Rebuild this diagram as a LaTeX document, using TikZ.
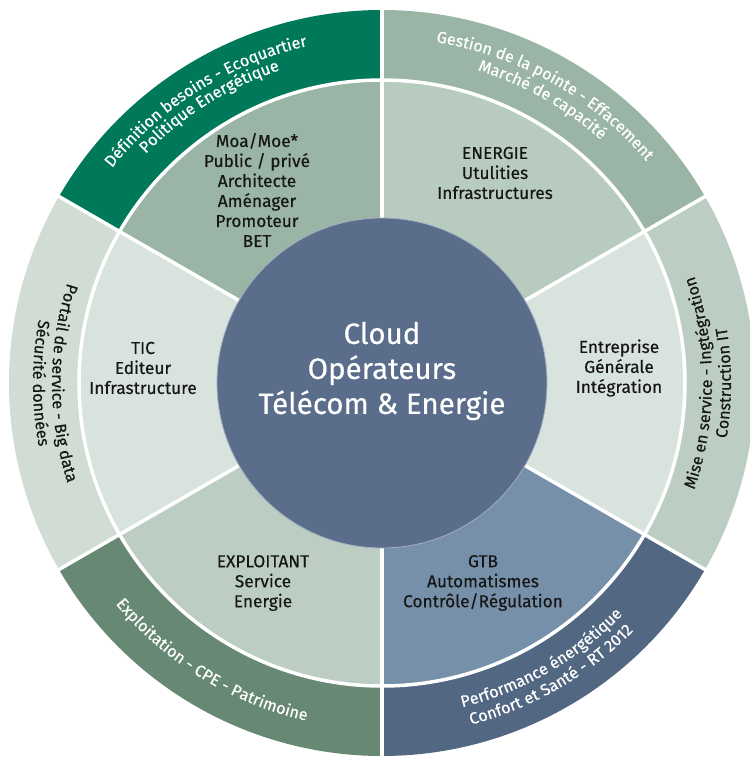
\documentclass[tikz,border=0pt]{standalone}
\usepackage{fontspec}
\setmainfont{Fira Sans}[FakeBold=0.35]
\usetikzlibrary{decorations.text}

% palette
\definecolor{coreblue}{HTML}{5A6E8C}
\definecolor{coreedge}{HTML}{A3AEC2}
\definecolor{dkgreen}{HTML}{00795A}
\definecolor{sage}{HTML}{9AB5A5}
\definecolor{sagelight}{HTML}{B7CBBF}
\definecolor{mist}{HTML}{D9E3DE}
\definecolor{mistouter}{HTML}{D0DCD4}
\definecolor{mint}{HTML}{BCCEC3}
\definecolor{steel}{HTML}{7690A9}
\definecolor{slate}{HTML}{526782}
\definecolor{moss}{HTML}{678873}
\definecolor{labeldark}{HTML}{161616}

% filled annular sector: colour, start angle, end angle, inner radius, outer radius
\newcommand\ringsector[5]{%
  \fill[#1] (#2:#4) arc[start angle=#2, end angle=#3, radius=#4]
    -- (#3:#5) arc[start angle=#3, end angle=#2, radius=#5] -- cycle;}

% fonts for the curved ring captions
\newcommand\ringwhite{\fontsize{16.2}{18}\selectfont\color{white}}
\newcommand\ringdark{\fontsize{16.2}{18}\selectfont\color{labeldark}}

\tikzset{
  midlabel/.style={align=center, text=labeldark, font=\fontsize{17.3}{20}\selectfont},
  separator/.style={white, line width=3.5pt},
  arctext/.style={decorate, decoration={text along path, text align=center, text={#1}}},
}

\begin{document}
\begin{tikzpicture}[x=1pt, y=1pt]
\useasboundingbox (-382,-375) rectangle (368,383);
\clip (-382,-375) rectangle (368,383);

% outer ring
\ringsector{dkgreen}{90}{150}{165pt}{373pt}
\ringsector{sage}{30}{90}{165pt}{373pt}
\ringsector{mint}{-30}{30}{165pt}{373pt}
\ringsector{slate}{-90}{-30}{165pt}{373pt}
\ringsector{moss}{-150}{-90}{165pt}{373pt}
\ringsector{mistouter}{150}{210}{165pt}{373pt}

% middle ring
\ringsector{sage}{90}{150}{160pt}{303pt}
\ringsector{sagelight}{30}{90}{160pt}{303pt}
\ringsector{mist}{-30}{30}{160pt}{303pt}
\ringsector{steel}{-90}{-30}{160pt}{303pt}
\ringsector{mint}{-150}{-90}{160pt}{303pt}
\ringsector{mist}{150}{210}{160pt}{303pt}

% white separators
\draw[separator] (0,0) circle[radius=303pt];
\foreach \a in {90,30,-30,-90,-150,150}
  \draw[separator] (\a:165pt) -- (\a:380pt);

% core disc
\node[circle, fill=coreblue, draw=coreedge, line width=0.8pt,
      minimum size=330pt, inner sep=0pt] (core) at (0,0) {};
\node[align=center, text=white, font=\fontsize{29.5}{35}\selectfont] (corelabel) at (0,12)
  {Cloud\\Opérateurs\\Télécom \& Energie};

% middle ring labels
\node[midlabel] (moa) at (-125,193) {Moa/Moe*\\Public / privé\\Architecte\\Aménager\\Promoteur\\BET};
\node[midlabel] (energie) at (113,210) {ENERGIE\\Utulities\\Infrastructures};
\node[midlabel] (entreprise) at (237,15) {Entreprise\\Générale\\Intégration};
\node[midlabel] (gtb) at (101,-200) {GTB\\Automatismes\\Contrôle/Régulation};
\node[midlabel] (exploitant) at (-119,-200) {EXPLOITANT\\Service\\Energie};
\node[midlabel] (tic) at (-239,15) {TIC\\Editeur\\Infrastructure};

% outer ring captions, following the arcs
\path[arctext={|\ringwhite|Définition besoins - Ecoquartier}]
  (162:345pt) arc[start angle=162, end angle=82, radius=345pt];
\path[arctext={|\ringwhite|Politique Energétique}]
  (162:329pt) arc[start angle=162, end angle=82, radius=329pt];

\path[arctext={|\ringwhite|Gestion de la pointe - Effacement}]
  (100.5:345pt) arc[start angle=100.5, end angle=20.5, radius=345pt];
\path[arctext={|\ringwhite|Marché de capacité}]
  (100.5:327pt) arc[start angle=100.5, end angle=20.5, radius=327pt];

\path[arctext={|\ringdark|Mise en service - Ingtégration}]
  (-45:330pt) arc[start angle=-45, end angle=45, radius=330pt];
\path[arctext={|\ringdark|Construction IT}]
  (-45:349pt) arc[start angle=-45, end angle=45, radius=349pt];

\path[arctext={|\ringwhite|Performance énergétique}]
  (-105:334pt) arc[start angle=-105, end angle=-15, radius=334pt];
\path[arctext={|\ringwhite|Confort et Santé - RT 2012}]
  (-105:353pt) arc[start angle=-105, end angle=-15, radius=353pt];

\path[arctext={|\ringwhite|Exploitation - CPE - Patrimoine}]
  (-166:346pt) arc[start angle=-166, end angle=-77, radius=346pt];

\path[arctext={|\ringdark|Portail de service - Big data}]
  (135:330pt) arc[start angle=135, end angle=225, radius=330pt];
\path[arctext={|\ringdark|Sécurité données}]
  (135:349pt) arc[start angle=135, end angle=225, radius=349pt];
\end{tikzpicture}
\end{document}
